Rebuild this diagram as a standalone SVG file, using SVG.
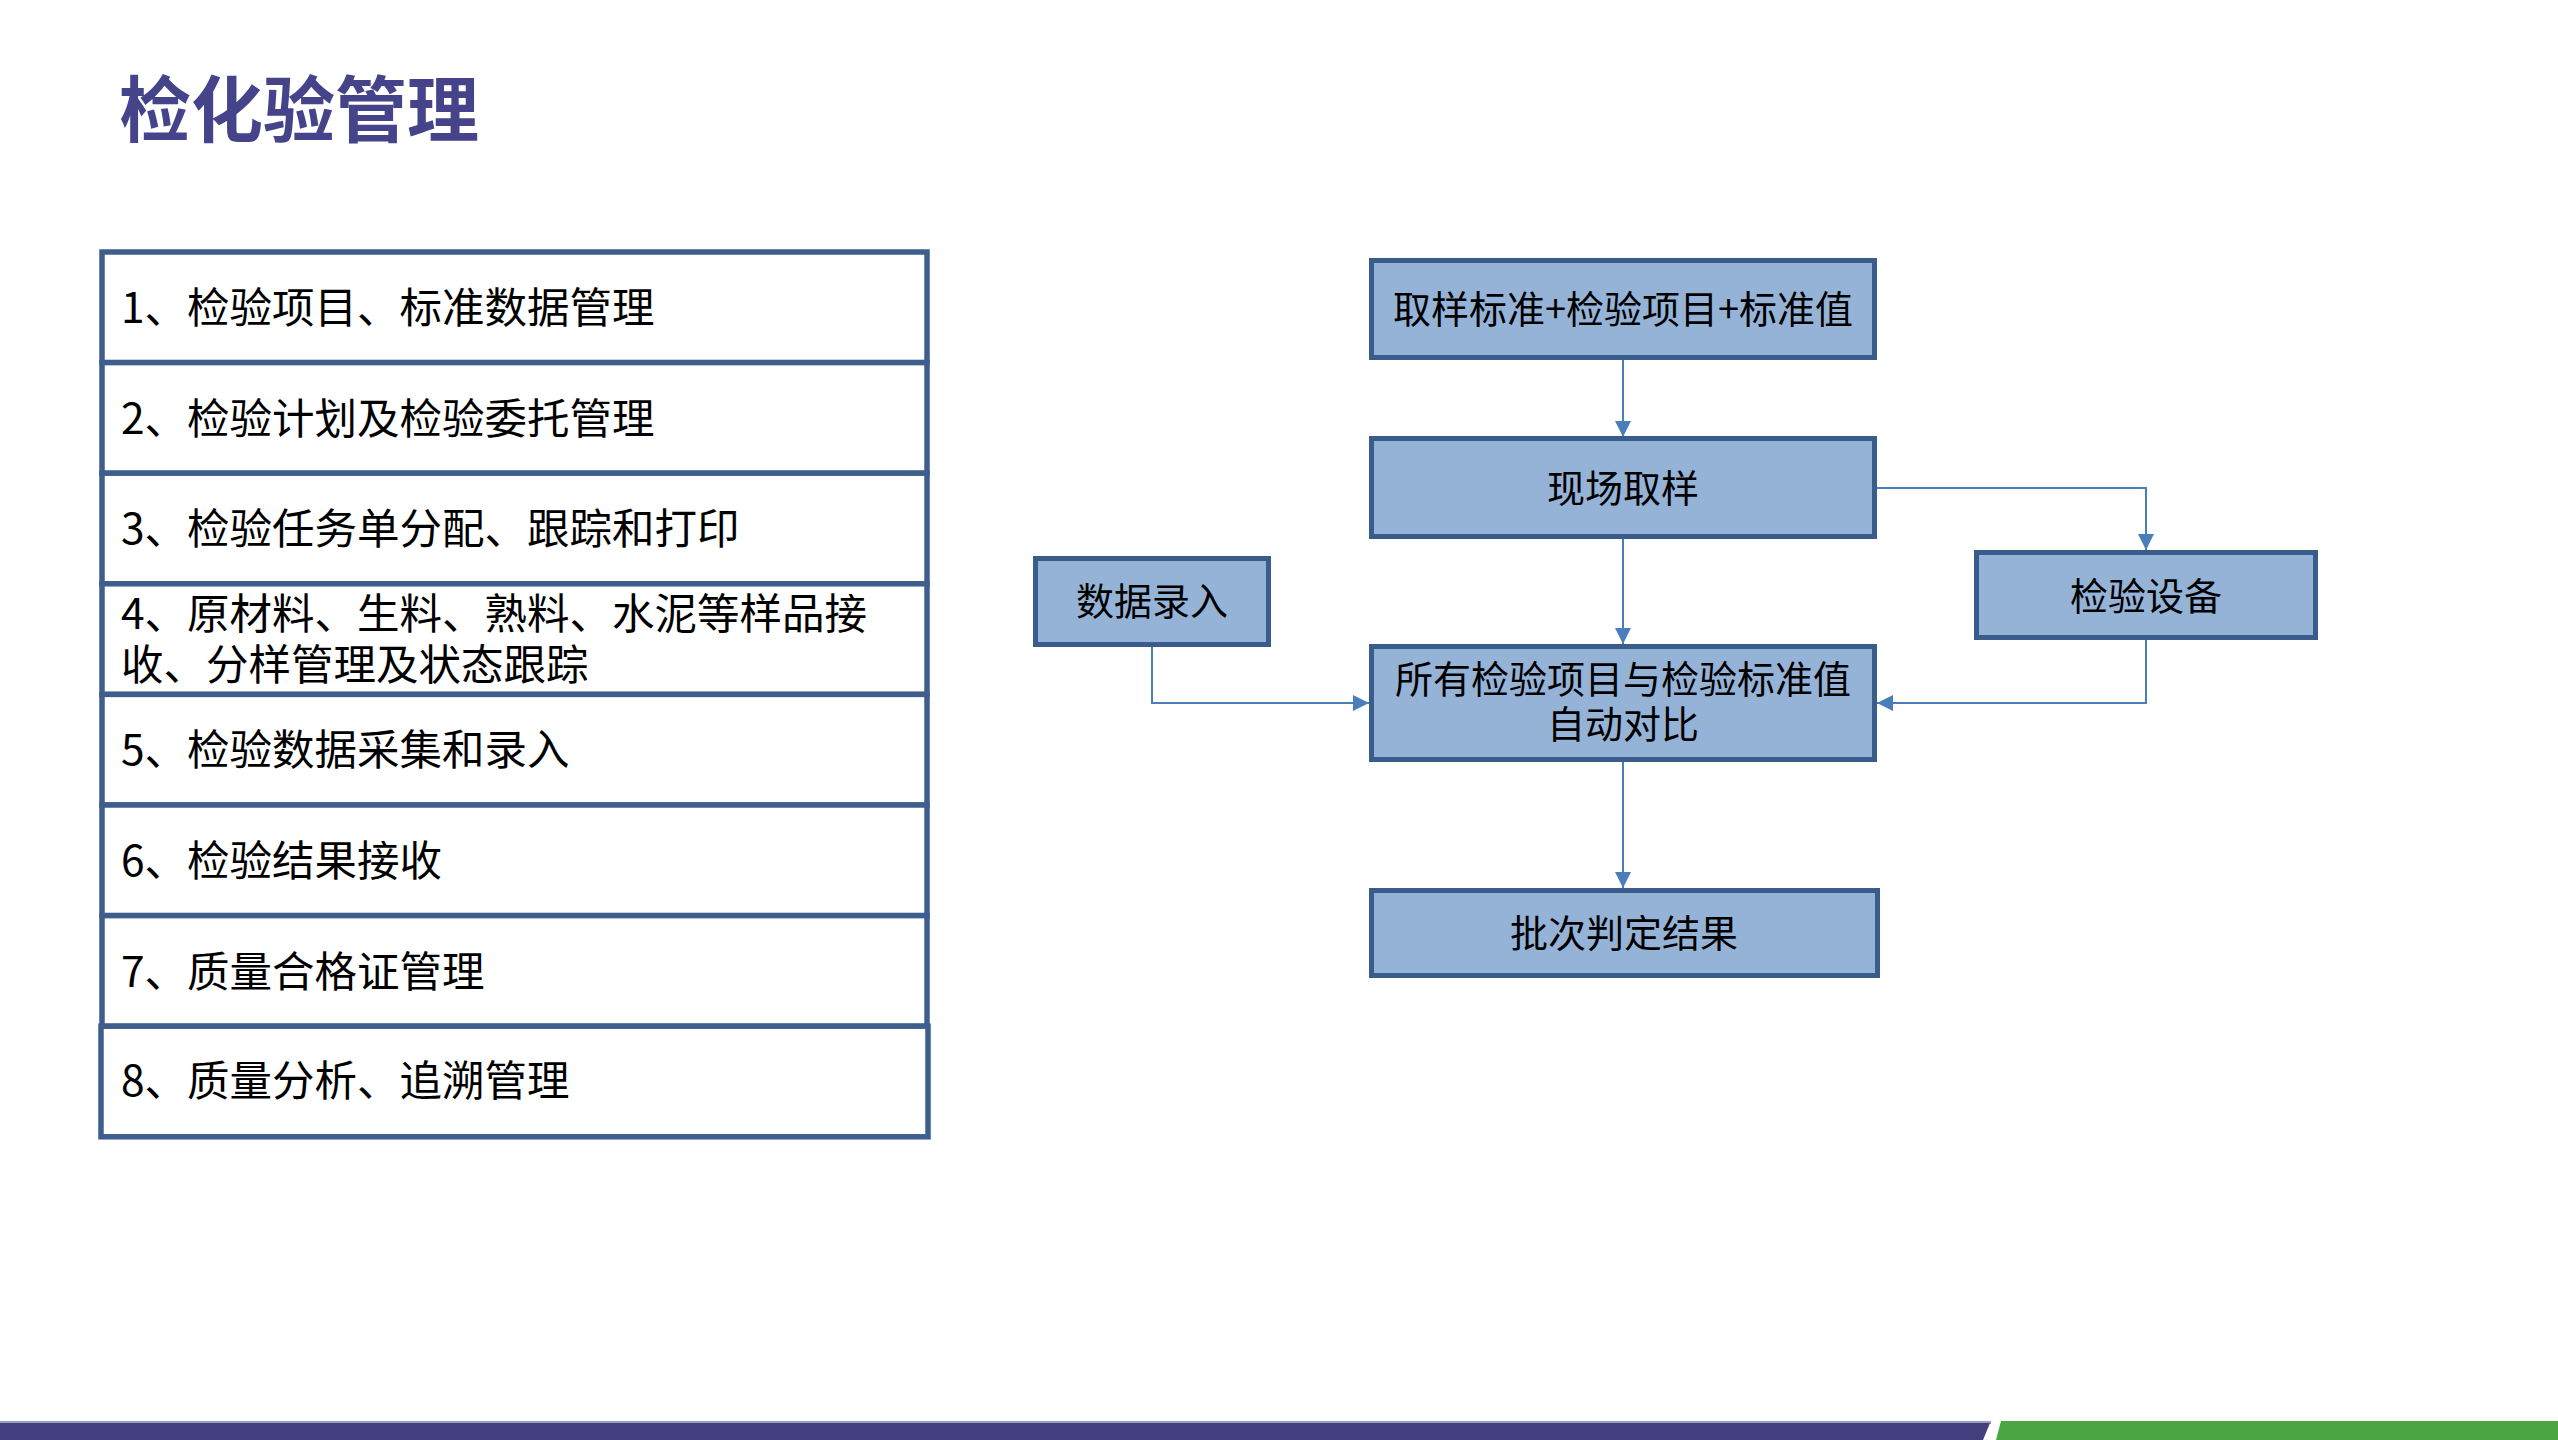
<svg xmlns="http://www.w3.org/2000/svg" width="2558" height="1440" viewBox="0 0 2558 1440">
<style>
  .title{font-family:"Noto Sans CJK SC",sans-serif;font-weight:bold;font-size:72px;fill:#45448A}
  .row rect{fill:#FFFFFF;stroke:#3E5F8E;stroke-width:5.5}
  .row text{font-family:"Noto Sans CJK SC",sans-serif;font-size:42.5px;fill:#000}
  .node rect{fill:#95B3D7;stroke:#3A5C8A;stroke-width:5}
  .node text{font-family:"Noto Sans CJK SC",sans-serif;font-size:38px;fill:#000;text-anchor:middle}
  .conn path{fill:none;stroke:#4A7EBB;stroke-width:2}
</style>
<defs>
  <marker id="arr" markerUnits="userSpaceOnUse" markerWidth="16" markerHeight="16" viewBox="0 0 14 14" refX="14" refY="7" orient="auto">
    <path d="M0,0 L14,7 L0,14 Z" fill="#4A7EBB"/>
  </marker>
</defs>
<rect x="0" y="0" width="2558" height="1440" fill="#FFFFFF"/>
<text class="title" x="119" y="136">检化验管理</text>

<g id="list">
  <g class="row" id="row1"><rect x="102" y="252" width="825" height="110.6"/><text x="121" y="323">1、检验项目、标准数据管理</text></g>
  <g class="row" id="row2"><rect x="102" y="362.6" width="825" height="110.6"/><text x="121" y="434">2、检验计划及检验委托管理</text></g>
  <g class="row" id="row3"><rect x="102" y="473.2" width="825" height="110.6"/><text x="121" y="544">3、检验任务单分配、跟踪和打印</text></g>
  <g class="row" id="row4"><rect x="102" y="583.8" width="825" height="110.6"/><text x="121" y="629">4、原材料、生料、熟料、水泥等样品接<tspan x="121" y="680">收、分样管理及状态跟踪</tspan></text></g>
  <g class="row" id="row5"><rect x="102" y="694.4" width="825" height="110.6"/><text x="121" y="765">5、检验数据采集和录入</text></g>
  <g class="row" id="row6"><rect x="102" y="805" width="825" height="110.6"/><text x="121" y="876">6、检验结果接收</text></g>
  <g class="row" id="row7"><rect x="102" y="915.6" width="825" height="110.6"/><text x="121" y="987">7、质量合格证管理</text></g>
  <g class="row" id="row8"><rect x="101" y="1026.2" width="827" height="110.6"/><text x="121" y="1096">8、质量分析、追溯管理</text></g>
</g>

<g id="connectors" class="conn">
  <path d="M1623 360 V437" marker-end="url(#arr)"/>
  <path d="M1623 539 V644" marker-end="url(#arr)"/>
  <path d="M1877 488 H2146 V550" marker-end="url(#arr)"/>
  <path d="M1152 647 V703 H1369" marker-end="url(#arr)"/>
  <path d="M2146 640 V703 H1877" marker-end="url(#arr)"/>
  <path d="M1623 762 V888" marker-end="url(#arr)"/>
</g>

<g id="nodeA" class="node"><rect x="1371.5" y="260.5" width="503" height="97"/><text x="1623" y="323">取样标准+检验项目+标准值</text></g>
<g id="nodeB" class="node"><rect x="1371.5" y="438.5" width="503" height="98"/><text x="1623" y="502">现场取样</text></g>
<g id="nodeInput" class="node"><rect x="1035.5" y="558.5" width="233" height="86"/><text x="1152" y="615">数据录入</text></g>
<g id="nodeDevice" class="node"><rect x="1976.5" y="552.5" width="339" height="85"/><text x="2146" y="610">检验设备</text></g>
<g id="nodeC" class="node"><rect x="1371.5" y="646.5" width="503" height="113"/><text x="1623" y="693">所有检验项目与检验标准值<tspan x="1623" y="738">自动对比</tspan></text></g>
<g id="nodeD" class="node"><rect x="1371.5" y="890.5" width="506" height="85"/><text x="1624" y="947">批次判定结果</text></g>

<g id="footer">
  <rect x="0" y="1421" width="1991" height="3" fill="#9A9CC4"/>
  <polygon points="0,1423 1990,1423 1983,1440 0,1440" fill="#433F7F"/>
  <polygon points="2001,1421 2558,1421 2558,1440 1996,1440" fill="#4AA540"/>
</g>
</svg>
